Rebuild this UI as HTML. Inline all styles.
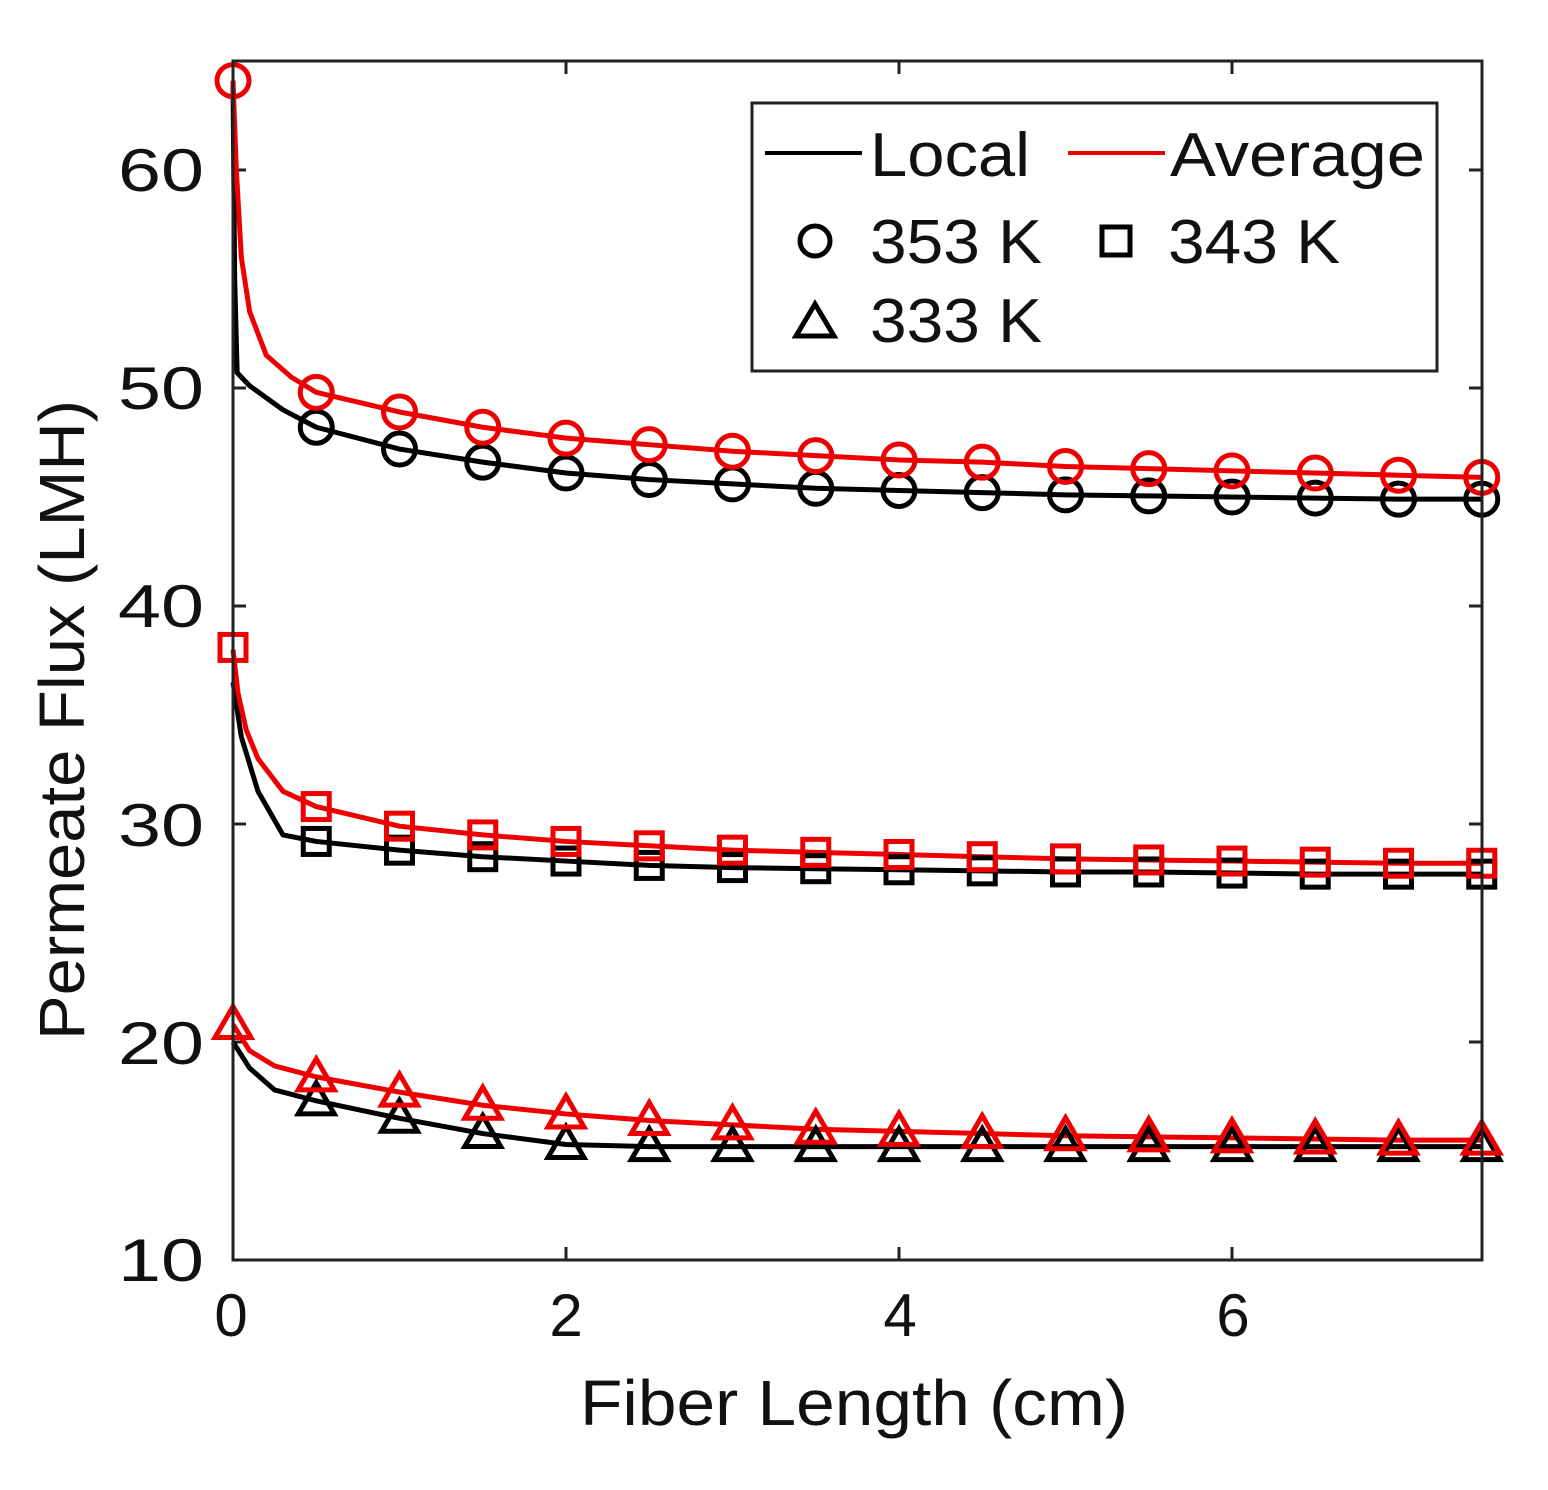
<!DOCTYPE html>
<html><head><meta charset="utf-8"><style>
html,body{margin:0;padding:0;background:#fff;}
svg{display:block;font-family:"Liberation Sans",sans-serif;}
</style></head><body>
<svg id="s" width="1548" height="1490" viewBox="0 0 1548 1490" xmlns="http://www.w3.org/2000/svg">
<rect width="1548" height="1490" fill="#fff"/>
<g id="g"></g>
<rect x="233" y="61" width="1249" height="1199" fill="none" stroke="#222" stroke-width="3"/>
<g font-size="60" fill="#111" lengthAdjust="spacingAndGlyphs">
<text x="118" y="191" textLength="86" lengthAdjust="spacingAndGlyphs">60</text>
<text x="118" y="409" textLength="86" lengthAdjust="spacingAndGlyphs">50</text>
<text x="118" y="627" textLength="86" lengthAdjust="spacingAndGlyphs">40</text>
<text x="118" y="846" textLength="86" lengthAdjust="spacingAndGlyphs">30</text>
<text x="118" y="1064" textLength="86" lengthAdjust="spacingAndGlyphs">20</text>
<text x="118" y="1281" textLength="86" lengthAdjust="spacingAndGlyphs">10</text>
</g>
<g font-size="60" fill="#111" text-anchor="middle">
<text x="231" y="1336">0</text><text x="566" y="1336">2</text><text x="900" y="1336">4</text><text x="1233" y="1336">6</text>
</g>
<text x="580" y="1425" font-size="64" fill="#111" textLength="548" lengthAdjust="spacingAndGlyphs">Fiber Length (cm)</text>
<text transform="translate(84,1040) rotate(-90)" font-size="64" fill="#111" textLength="640" lengthAdjust="spacingAndGlyphs">Permeate Flux (LMH)</text>
<rect x="752" y="103" width="685" height="268" fill="#fff" stroke="#222" stroke-width="3"/>
<line x1="765" y1="153" x2="862" y2="153" stroke="#000" stroke-width="4"/>
<text x="870" y="176" font-size="62" fill="#111" textLength="160" lengthAdjust="spacingAndGlyphs">Local</text>
<line x1="1068" y1="153" x2="1165" y2="153" stroke="#e00" stroke-width="4"/>
<text x="1170" y="176" font-size="62" fill="#111" textLength="255" lengthAdjust="spacingAndGlyphs">Average</text>
<circle cx="815" cy="241" r="15" fill="none" stroke="#000" stroke-width="5"/>
<text x="870" y="263" font-size="62" fill="#111" textLength="172" lengthAdjust="spacingAndGlyphs">353 K</text>
<rect x="1102" y="227" width="28" height="28" fill="none" stroke="#000" stroke-width="5"/>
<text x="1168" y="263" font-size="62" fill="#111" textLength="172" lengthAdjust="spacingAndGlyphs">343 K</text>
<polygon points="815,304 796,336 834,336" fill="none" stroke="#000" stroke-width="5"/>
<text x="870" y="342" font-size="62" fill="#111" textLength="172" lengthAdjust="spacingAndGlyphs">333 K</text>
</svg>
<script>
var X=function(x){return 233+x*166.5;},Y=function(y){return 1260-(y-10)*21.8;};
var g=document.getElementById('g'),NS='http://www.w3.org/2000/svg';
function el(t,a){var e=document.createElementNS(NS,t);for(var k in a)e.setAttribute(k,a[k]);g.appendChild(e);return e;}
[20,30,40,50,60].forEach(function(v){el('line',{x1:233,y1:Y(v),x2:246,y2:Y(v),stroke:'#222','stroke-width':3});el('line',{x1:1469,y1:Y(v),x2:1482,y2:Y(v),stroke:'#222','stroke-width':3});});
[2,4,6].forEach(function(v){el('line',{x1:X(v),y1:1260,x2:X(v),y2:1247,stroke:'#222','stroke-width':3});el('line',{x1:X(v),y1:61,x2:X(v),y2:74,stroke:'#222','stroke-width':3});});
var xs=[];for(var i=0;i<=15;i++)xs.push(i*0.5);
var S=[
{c:'#000',m:'c',pre:[[0,64],[0.01,55],[0.025,50.7],[0.1,50.1],[0.3,49]],v:[null,48.2,47.2,46.6,46.1,45.8,45.6,45.4,45.3,45.2,45.1,45.05,45.0,44.95,44.9,44.9]},
{c:'#e00',m:'c',pre:[[0,64.1],[0.02,60],[0.05,56],[0.1,53.5],[0.2,51.5],[0.35,50.5]],v:[64.1,49.8,48.9,48.2,47.7,47.4,47.1,46.9,46.7,46.6,46.4,46.3,46.2,46.1,46.0,45.9]},
{c:'#000',m:'s',pre:[[0,36.5],[0.05,34],[0.15,31.5],[0.3,29.5]],v:[null,29.2,28.8,28.5,28.3,28.1,28.0,27.95,27.9,27.85,27.8,27.8,27.75,27.7,27.7,27.7]},
{c:'#e00',m:'s',pre:[[0,38],[0.03,36],[0.08,34.3],[0.15,33],[0.3,31.5]],v:[38.1,30.8,29.9,29.5,29.2,29.0,28.8,28.7,28.6,28.5,28.4,28.35,28.3,28.25,28.2,28.2]},
{c:'#000',m:'t',pre:[[0,20],[0.1,18.8],[0.25,17.8]],v:[null,17.3,16.5,15.8,15.3,15.2,15.2,15.2,15.2,15.2,15.2,15.2,15.2,15.2,15.2,15.2]},
{c:'#e00',m:'t',pre:[[0,20.8],[0.1,19.6],[0.25,18.9]],v:[20.8,18.4,17.7,17.1,16.7,16.4,16.2,16.0,15.9,15.8,15.7,15.65,15.6,15.55,15.5,15.5]}
];
S.forEach(function(s){
 var pts=s.pre.slice();for(var i=1;i<16;i++)pts.push([xs[i],s.v[i]]);
 el('polyline',{points:pts.map(function(p){return X(p[0])+','+Y(p[1]);}).join(' '),fill:'none',stroke:s.c,'stroke-width':5,'stroke-linejoin':'round'});
});
S.forEach(function(s){
 for(var i=0;i<16;i++){var v=s.v[i];if(v==null)continue;var cx=X(xs[i]),cy=Y(v);
  if(s.m=='c')el('circle',{cx:cx,cy:cy,r:16,fill:'none',stroke:s.c,'stroke-width':5});
  else if(s.m=='s')el('rect',{x:cx-13,y:cy-13,width:26,height:26,fill:'none',stroke:s.c,'stroke-width':5});
  else el('polygon',{points:(cx)+','+(cy-18)+' '+(cx-18)+','+(cy+13)+' '+(cx+18)+','+(cy+13),fill:'none',stroke:s.c,'stroke-width':5});
 }
});
</script>
</body></html>
